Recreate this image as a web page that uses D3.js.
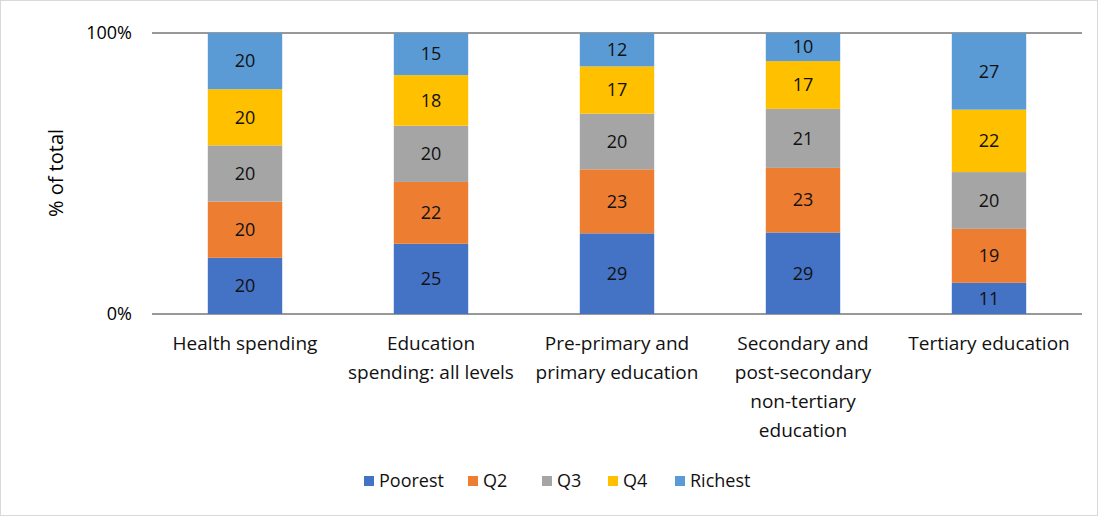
<!DOCTYPE html><html><head><meta charset="utf-8">
<script src="https://cdn.jsdelivr.net/npm/d3@7"></script>
<style>body{margin:0;background:#fff}text{font-family:"Open Sans","Liberation Sans",sans-serif}</style></head><body>
<svg id="c" width="1098" height="516"></svg>
<script>
const categories=[["Health spending"],["Education","spending: all levels"],["Pre-primary and","primary education"],["Secondary and","post-secondary","non-tertiary","education"],["Tertiary education"]];
const seriesNames=["Poorest","Q2","Q3","Q4","Richest"];
const colors=["#4472C4","#ED7D31","#A5A5A5","#FFC000","#5B9BD5"];
const poorest=[20,25,29,29,11];
const q2=[20,22,23,23,19];
const q3=[20,20,20,21,20];
const q4=[20,18,17,17,22];
const richest=[20,15,12,10,27];
const yTicks=[0,1];
const series=[poorest,q2,q3,q4,richest];
const svg=d3.select("#c");
svg.append("rect").attr("x",0.5).attr("y",0.5).attr("width",1097).attr("height",515).attr("fill","none").attr("stroke","#d9d9d9");
const L=152,R=1082,T=33,B=314;
const x=d3.scaleBand().domain(d3.range(5)).range([L,R]).paddingInner(0.6).paddingOuter(0.3);
const y=d3.scaleLinear().domain([0,1]).range([B,T]);
yTicks.forEach(t=>{svg.append("line").attr("x1",L).attr("x2",R).attr("y1",y(t)).attr("y2",y(t)).attr("stroke","#333").attr("stroke-width",1);
svg.append("text").attr("x",L-20).attr("y",y(t)).attr("dy","0.35em").attr("text-anchor","end").attr("font-size",18).text(d3.format(".0%")(t));});
categories.forEach((c,i)=>{const tot=d3.sum(series,s=>s[i]);let acc=0;
series.forEach((s,k)=>{const y0=y(acc/tot),y1=y((acc+s[i])/tot);acc+=s[i];
svg.append("rect").attr("x",x(i)).attr("width",x.bandwidth()).attr("y",y1).attr("height",y0-y1).attr("fill",colors[k]);
svg.append("text").attr("x",x(i)+x.bandwidth()/2).attr("y",(y0+y1)/2).attr("dy","0.35em").attr("text-anchor","middle").attr("font-size",18).attr("fill","#111").text(s[i]);});
const t=svg.append("text").attr("text-anchor","middle").attr("font-size",19).attr("fill","#111");
c.forEach((l,j)=>t.append("tspan").attr("x",x(i)+x.bandwidth()/2).attr("y",350+j*29).text(l));});
svg.append("text").attr("transform","translate(63,173) rotate(-90)").attr("text-anchor","middle").attr("font-size",20).text("% of total");
const lx=[364,468,542,608,675];
seriesNames.forEach((n,k)=>{svg.append("rect").attr("x",lx[k]).attr("y",476).attr("width",10).attr("height",10).attr("fill",colors[k]);
svg.append("text").attr("x",lx[k]+15).attr("y",481).attr("dy","0.35em").attr("font-size",18).attr("fill","#111").text(n);});
</script></body></html>
